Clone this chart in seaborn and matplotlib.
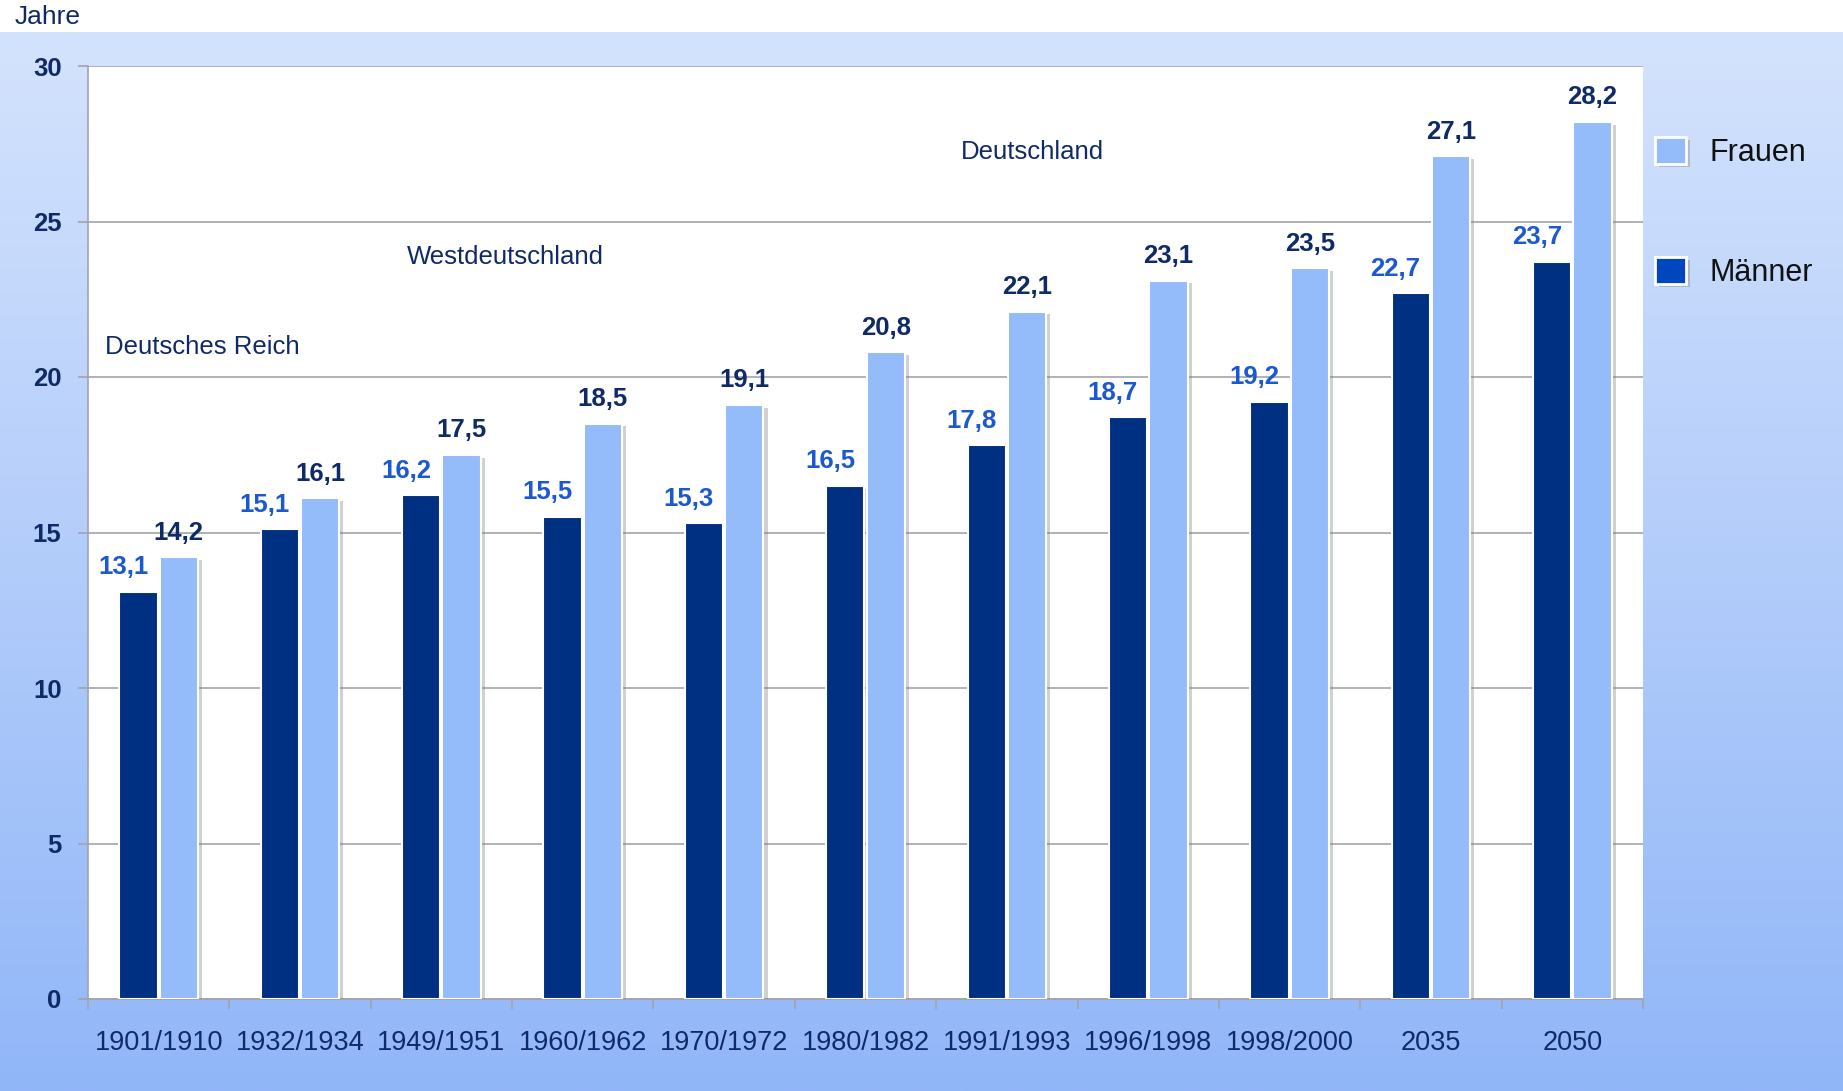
import numpy as np
import pandas as pd
import matplotlib
matplotlib.use("Agg")
import matplotlib.pyplot as plt
import matplotlib.patheffects as pe
from matplotlib.patches import Patch
import seaborn as sns

# Fernere Lebenserwartung im Alter von 60 Jahren
zeitraeume = ["1901/1910", "1932/1934", "1949/1951", "1960/1962", "1970/1972",
              "1980/1982", "1991/1993", "1996/1998", "1998/2000", "2035", "2050"]
maenner = [13.1, 15.1, 16.2, 15.5, 15.3, 16.5, 17.8, 18.7, 19.2, 22.7, 23.7]
frauen = [14.2, 16.1, 17.5, 18.5, 19.1, 20.8, 22.1, 23.1, 23.5, 27.1, 28.2]
gruppen = ["Männer", "Frauen"]
y_ticks = [0, 5, 10, 15, 20, 25, 30]

df = pd.DataFrame({
    "Zeitraum": zeitraeume * 2,
    "Geschlecht": ["Männer"] * len(maenner) + ["Frauen"] * len(frauen),
    "Jahre": maenner + frauen,
})

NAVY = "#0f2a66"
BAR_M = "#003082"
BAR_F = "#94bbfa"
LAB_M = "#1c58d0"
GRID = "#a3a3ab"

sns.set_theme(style="white")
plt.rcParams["font.family"] = ["Liberation Sans", "DejaVu Sans"]

fig = plt.figure(figsize=(18.43, 10.91), dpi=100)

# Hintergrund: weißer Streifen oben, darunter ein blauer Verlauf
bg = fig.add_axes([0, 0, 1, 1], zorder=-10)
top_frac = 1 - 32 / 1091
c_top = np.array(matplotlib.colors.to_rgb("#d4e3fd"))
c_bot = np.array(matplotlib.colors.to_rgb("#91b6f8"))
t = np.linspace(0, 1, 400)[:, None]
grad = (c_top * (1 - t) + c_bot * t)[:, None, :]
bg.imshow(grad, aspect="auto", extent=[0, 1, 0, top_frac], origin="upper")
bg.set_xlim(0, 1)
bg.set_ylim(0, 1)
bg.axis("off")

ax = fig.add_axes([88 / 1843, 1 - 999 / 1091, (1643 - 88) / 1843, (999 - 66) / 1091])
ax.set_facecolor("white")

sns.barplot(data=df, x="Zeitraum", y="Jahre", hue="Geschlecht", hue_order=gruppen,
            palette=[BAR_M, BAR_F], saturation=1, width=0.57, gap=0.05, ax=ax,
            edgecolor="white", linewidth=1.5, legend=False, zorder=3)

shadow = [pe.SimplePatchShadow(offset=(3, -2), shadow_rgbFace="#7a7a7a", alpha=0.35), pe.Normal()]
for patch in ax.patches:
    patch.set_path_effects(shadow)

# Wertebeschriftungen
for cont, color, dx in zip(ax.containers, [LAB_M, NAVY], [-11, 0]):
    for bar in cont:
        h = bar.get_height()
        ax.annotate(f"{h:.1f}".replace(".", ","),
                    (bar.get_x() + bar.get_width() / 2, h),
                    xytext=(dx, 9), textcoords="offset points",
                    ha="center", va="bottom", fontsize=18.5, fontweight="bold",
                    color=color, zorder=5)

ax.set_ylim(0, 30)
ax.set_xlim(-0.5, len(zeitraeume) - 0.5)
ax.set_yticks(y_ticks)
ax.set_yticklabels([str(v) for v in y_ticks], fontsize=18.5, fontweight="bold", color=NAVY)
ax.set_xticks(range(len(zeitraeume)))
ax.set_xticklabels(zeitraeume, fontsize=19.5, color=NAVY)
ax.set_xticks(np.arange(-0.5, len(zeitraeume), 1.0), minor=True)
ax.tick_params(axis="x", which="major", length=0, pad=22)
ax.tick_params(axis="x", which="minor", length=7, width=1.2, color=GRID, direction="out", bottom=True)
ax.tick_params(axis="y", length=7, width=1.2, color=GRID, direction="out", left=True, pad=12)
ax.set_xlabel("")
ax.set_ylabel("")
ax.yaxis.grid(True, color=GRID, linewidth=1.2, zorder=0)
ax.set_axisbelow(True)
for side in ["top", "right"]:
    ax.spines[side].set_visible(False)
for side in ["left", "bottom"]:
    ax.spines[side].set_color(GRID)
    ax.spines[side].set_linewidth(1.2)

# Gebietsstand
ax.text(-0.38, 20.95, "Deutsches Reich", fontsize=18.5, color=NAVY, ha="left", va="center")
ax.text(2.45, 23.85, "Westdeutschland", fontsize=18.5, color=NAVY, ha="center", va="center")
ax.text(6.18, 27.25, "Deutschland", fontsize=18.5, color=NAVY, ha="center", va="center")

fig.text(15 / 1843, 1 - 17 / 1091, "Jahre", fontsize=19, color=NAVY, ha="left", va="center")

# Legende
handles = [Patch(facecolor=BAR_F, edgecolor="white", linewidth=2),
           Patch(facecolor="#0047bf", edgecolor="white", linewidth=2)]
leg = fig.legend(handles, ["Frauen", "Männer"], loc="upper left",
                 bbox_to_anchor=(1655 / 1843, 1 - 137 / 1091), frameon=False,
                 fontsize=22, handlelength=1.0, handleheight=1.0,
                 handletextpad=0.8, labelspacing=2.9, borderpad=0, borderaxespad=0)
for h in leg.legend_handles:
    h.set_path_effects(shadow)
for txt in leg.get_texts():
    txt.set_color("#111111")

fig.savefig("out.png", dpi=100)
